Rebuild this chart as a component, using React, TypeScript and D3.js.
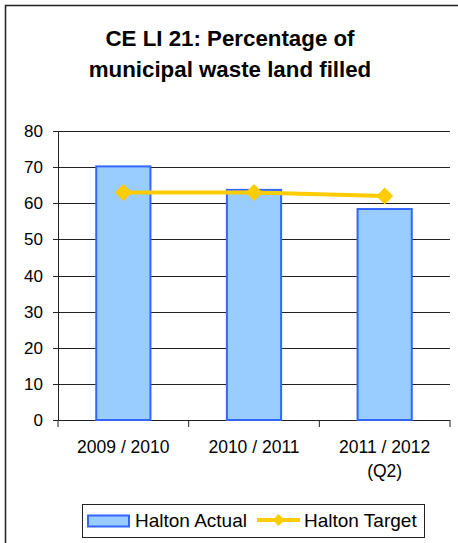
import React from "react";
import * as d3 from "d3";

const categories = ["2009 / 2010", "2010 / 2011", "2011 / 2012|(Q2)"];
const actualValues = [70.2, 63.7, 58.4];
const targetValues = [63, 63, 62];
const yTicks = [0, 10, 20, 30, 40, 50, 60, 70, 80];
const titleLines = ["CE LI 21: Percentage of", "municipal waste land filled"];
const seriesNames = ["Halton Actual", "Halton Target"];

const W = 458;
const H = 543;
const FONT = "'Liberation Sans', Arial, sans-serif";

export default function App() {
  const left = 58, right = 450, top = 131, bottom = 420;
  const x = d3.scaleBand<string>().domain(categories).range([left, right]).paddingInner(0.585).paddingOuter(0.2925);
  const y = d3.scaleLinear().domain([0, 80]).range([bottom, top]);
  const step = x.step();
  const cx = (c: string) => (x(c) as number) + x.bandwidth() / 2;
  const line = d3.line<number>().x((_, i) => cx(categories[i])).y((d) => y(d));
  const diamond = (px: number, py: number, r: number) =>
    `M${px},${py - r}L${px + r},${py}L${px},${py + r}L${px - r},${py}Z`;

  return (
    <svg width={W} height={H} style={{ position: "absolute", left: 0, top: 0, display: "block" }}>
      <rect x={0} y={0} width={W} height={H} fill="#fff" />
      <path d={`M5.5,${H + 5}V5.5H${W + 5}`} fill="none" stroke="#222" strokeWidth={1.5} />
      {titleLines.map((t, i) => (
        <text key={i} x={230} y={46 + i * 31} textAnchor="middle" fontFamily={FONT} fontWeight="bold" fontSize={22.3} fill="#000">
          {t}
        </text>
      ))}
      {yTicks.map((t) => (
        <g key={t}>
          <line x1={left} x2={right} y1={Math.round(y(t)) + 0.5} y2={Math.round(y(t)) + 0.5} stroke="#222" strokeWidth={1} />
          <line x1={left - 5} x2={left} y1={Math.round(y(t)) + 0.5} y2={Math.round(y(t)) + 0.5} stroke="#222" strokeWidth={1} />
          <text x={43} y={y(t)} dy="0.36em" textAnchor="end" fontFamily={FONT} fontSize={17} fill="#000">
            {t}
          </text>
        </g>
      ))}
      <line x1={left + 0.5} x2={left + 0.5} y1={top} y2={bottom} stroke="#222" strokeWidth={1} />
      {d3.range(categories.length + 1).map((i) => (
        <line key={i} x1={left + i * step} x2={left + i * step} y1={bottom} y2={bottom + 7} stroke="#222" strokeWidth={1} />
      ))}
      {categories.map((c, i) => (
        <rect
          key={c}
          x={x(c) as number}
          y={y(actualValues[i])}
          width={x.bandwidth()}
          height={bottom - y(actualValues[i])}
          fill="#99CCFF"
          stroke="#3366FF"
          strokeWidth={2}
        />
      ))}
      <path d={line(targetValues) as string} fill="none" stroke="#FFCC00" strokeWidth={4} />
      {targetValues.map((v, i) => (
        <path key={i} d={diamond(cx(categories[i]), y(v), 8.5)} fill="#FFCC00" />
      ))}
      {categories.map((c) =>
        c.split("|").map((part, j) => (
          <text key={c + j} x={cx(c)} y={453 + j * 24} textAnchor="middle" fontFamily={FONT} fontSize={17.5} fill="#000">
            {part}
          </text>
        ))
      )}
      <rect x={82.5} y={504.5} width={342} height={33} fill="#fff" stroke="#222" strokeWidth={1} />
      <rect x={88} y={515.5} width={41} height={11} fill="#99CCFF" stroke="#3366FF" strokeWidth={2} />
      <text x={135} y={527} fontFamily={FONT} fontSize={19} fill="#000">{seriesNames[0]}</text>
      <line x1={257} x2={300} y1={520} y2={520} stroke="#FFCC00" strokeWidth={4} />
      <path d={diamond(278.5, 520, 6)} fill="#FFCC00" />
      <text x={304} y={527} fontFamily={FONT} fontSize={19} fill="#000">{seriesNames[1]}</text>
    </svg>
  );
}
